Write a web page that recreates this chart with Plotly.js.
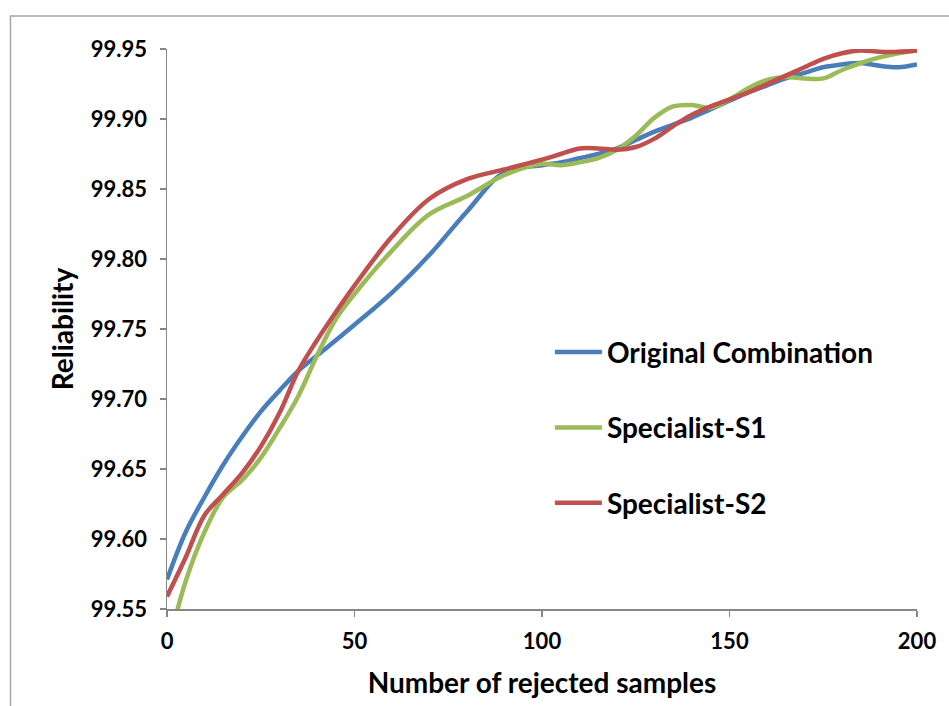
<!DOCTYPE html>
<html>
<head>
<meta charset="utf-8">
<script src="https://cdn.plot.ly/plotly-3.0.1.min.js"></script>
<style>html,body{margin:0;padding:0;background:#fff;}#chart{width:949px;height:706px;}</style>
</head>
<body>
<div id="chart"></div>
<script>
const xValues = [0,5,10,15,20,25,30,35,40,45,50,60,70,80,90,100,105,110,115,120,125,130,135,140,145,150,155,160,165,170,175,180,185,190,195,200];
const originalCombination = [99.571,99.605,99.630,99.653,99.673,99.691,99.706,99.720,99.731,99.742,99.753,99.776,99.803,99.834,99.862,99.867,99.869,99.872,99.875,99.879,99.885,99.891,99.896,99.901,99.907,99.913,99.919,99.924,99.929,99.933,99.937,99.939,99.940,99.938,99.937,99.939];
const specialistS1 = [99.520,99.570,99.605,99.630,99.642,99.658,99.679,99.702,99.731,99.757,99.775,99.806,99.832,99.845,99.860,99.868,99.867,99.869,99.872,99.878,99.888,99.901,99.909,99.910,99.908,99.914,99.922,99.928,99.930,99.929,99.929,99.935,99.940,99.944,99.947,99.949];
const specialistS2 = [99.559,99.587,99.617,99.632,99.647,99.666,99.690,99.720,99.742,99.762,99.781,99.816,99.843,99.857,99.864,99.871,99.875,99.879,99.879,99.878,99.880,99.886,99.895,99.903,99.909,99.914,99.919,99.925,99.931,99.937,99.943,99.947,99.949,99.948,99.948,99.949];
const seriesNames = ["Original Combination","Specialist-S1","Specialist-S2"];
const seriesColors = ["#4A7EBB","#9BBB59","#C0504D"];
const xTickVals = [0,50,100,150,200];
const yTickVals = [99.55,99.60,99.65,99.70,99.75,99.80,99.85,99.90,99.95];

const seriesData = [originalCombination, specialistS1, specialistS2];
const traces = seriesData.map((ys, i) => ({
  x: xValues, y: ys, type: 'scatter', mode: 'lines', name: seriesNames[i],
  legendgroup: 'g' + i,
  line: {color: seriesColors[i], width: 4.5, shape: 'spline', smoothing: 1}
}));

const fontFam = 'Lato, "Open Sans", sans-serif';
const layout = {
  width: 949, height: 706,
  margin: {l: 167, r: 32, t: 49, b: 97},
  paper_bgcolor: '#ffffff', plot_bgcolor: '#ffffff',
  font: {family: fontFam, color: '#000000', weight: 700},
  showlegend: true,
  legend: {
    x: 0.5105, xanchor: 'left', y: 0.503, yanchor: 'top',
    font: {family: fontFam, size: 28, color: '#000000', weight: 700},
    tracegroupgap: 36, traceorder: 'grouped', itemwidth: 47,
    bgcolor: 'rgba(0,0,0,0)'
  },
  xaxis: {
    range: [0, 200], tickvals: xTickVals, ticktext: xTickVals.map(String),
    ticks: 'outside', ticklen: 6, tickcolor: '#868686', tickwidth: 1.5,
    showline: true, linecolor: '#868686', linewidth: 1.5,
    showgrid: false, zeroline: false, ticklabelstandoff: 6,
    tickfont: {family: fontFam, size: 22, color: '#000000', weight: 700},
    title: {text: 'Number of rejected samples', standoff: 20,
            font: {family: fontFam, size: 28, color: '#000000', weight: 700}}
  },
  yaxis: {
    range: [99.55, 99.95], tickvals: yTickVals, ticktext: yTickVals.map(v => v.toFixed(2)),
    ticks: 'outside', ticklen: 6, tickcolor: '#868686', tickwidth: 1.5,
    showline: true, linecolor: '#868686', linewidth: 1.5,
    showgrid: false, zeroline: false, ticklabelstandoff: 8,
    tickfont: {family: fontFam, size: 22, color: '#000000', weight: 700},
    title: {text: 'Reliability', standoff: 9,
            font: {family: fontFam, size: 28, color: '#000000', weight: 700}}
  },
  shapes: [{
    type: 'rect', xref: 'paper', yref: 'paper',
    x0: -0.2087, x1: 1.06, y0: -0.2, y1: 1.059,
    line: {color: '#a6a6a6', width: 1.5}, fillcolor: 'rgba(0,0,0,0)', layer: 'below'
  }]
};

Plotly.newPlot('chart', traces, layout, {displayModeBar: false, staticPlot: true});
</script>
</body>
</html>
